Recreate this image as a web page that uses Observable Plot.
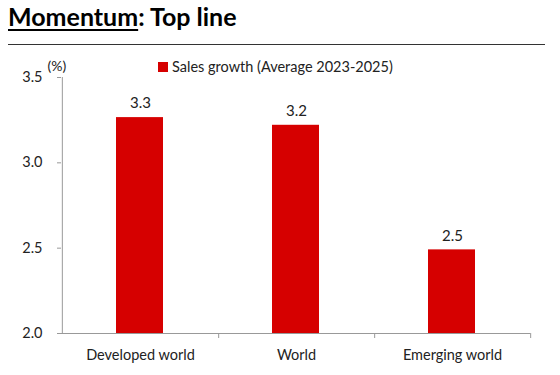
<!DOCTYPE html>
<html><head><meta charset="utf-8">
<script src="https://cdn.jsdelivr.net/npm/d3@7"></script>
<script src="https://cdn.jsdelivr.net/npm/@observablehq/plot@0.6"></script>
<style>
body{margin:0;background:#fff;font-family:Lato,"Open Sans",sans-serif;}
#wrap{position:relative;width:560px;height:375px;overflow:hidden;}
#title{position:absolute;left:8px;top:1px;font-weight:bold;font-size:25px;color:#000;}
#title u{text-decoration-thickness:2px;text-underline-offset:3px;}
#rule{position:absolute;left:8px;top:44px;width:537px;height:0;border-top:1.3px solid #333;}
#legend{position:absolute;left:158px;top:58px;font-size:14.5px;color:#222;display:flex;align-items:center;}
#legend span.sw{display:inline-block;width:10px;height:10px;background:#d60000;margin-right:4px;}
#chart{position:absolute;left:0;top:50px;}
</style></head>
<body><div id="wrap">
<div id="title"><u>Momentum</u>: Top line</div>
<div id="rule"></div>
<div id="chart"></div>
<div id="legend"><span class="sw"></span>Sales growth (Average 2023-2025)</div>
</div>
<script>
const categories = ["Developed world", "World", "Emerging world"];
const values = [3.265, 3.22, 2.49];
const labels = ["3.3", "3.2", "2.5"];
const yTicks = [2.0, 2.5, 3.0, 3.5];
const seriesName = "Sales growth (Average 2023-2025)";

const data = categories.map((c, i) => ({cat: c, v: values[i], lab: labels[i]}));
const W = 560, H = 325, ml = 61, mr = 30;
const step = (W - ml - mr) / categories.length;

const plot = Plot.plot({
  width: W, height: H,
  marginLeft: ml, marginRight: mr, marginTop: 27, marginBottom: 42,
  style: {fontFamily: "Lato, 'Open Sans', sans-serif", fontSize: "14px", color: "#222", background: "#fff"},
  x: {domain: categories, padding: 0, label: null},
  y: {type: "linear", domain: [2, 3.5], label: null},
  marks: [
    Plot.barY(data, {x: "cat", y1: () => 2, y2: "v", fill: "#d60000", insetLeft: 54, insetRight: 55}),
    Plot.text(data, {x: "cat", y: "v", text: "lab", dy: -14, fontSize: 15, fill: "#222"}),
    Plot.ruleX(categories.slice(0, 1), {x: d => d, dx: -step / 2, y1: () => 2, y2: () => 3.5, stroke: "#999"}),
    Plot.ruleY(yTicks.slice(0, 1), {stroke: "#999"}),
    Plot.ruleX(categories, {x: d => d, dx: step / 2, y1: () => 2, y2: () => 2, insetBottom: -5, stroke: "#999"}),
    Plot.axisY({ticks: yTicks, tickFormat: d3.format(".1f"), tickSize: 4, stroke: "#999", tickPadding: 15, fontSize: 14.5, label: null}),
    Plot.axisX({tickSize: 0, tickPadding: 16, fontSize: 14.5, label: null}),
    Plot.text(["(%)"], {frameAnchor: "top-left", dx: -14, dy: -16, fontSize: 14, fill: "#222", textAnchor: "start"})
  ]
});
document.getElementById("chart").appendChild(plot);
</script>
</body></html>
